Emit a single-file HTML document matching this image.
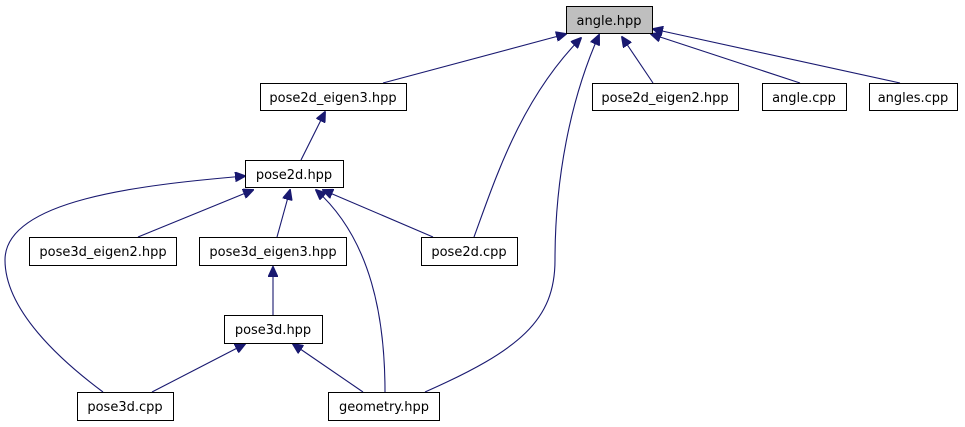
<!DOCTYPE html>
<html><head><meta charset="utf-8"><style>
html,body{margin:0;padding:0;background:#fff;}
svg{display:block;}
text{font-family:"DejaVu Sans","Liberation Sans",sans-serif;font-size:13px;fill:#000;text-anchor:middle;}
rect{fill:#fff;stroke:#000;stroke-width:1;}
path{fill:none;stroke:#191970;stroke-width:1.1;}
</style></head><body>
<svg width="965" height="427" viewBox="0 0 965 427" xmlns="http://www.w3.org/2000/svg">
<defs>
<marker id="a" markerWidth="11" markerHeight="10" refX="10" refY="5" orient="auto" markerUnits="userSpaceOnUse">
<path d="M0,0 L11,5 L0,10 Z" style="fill:#191970;stroke:#191970;stroke-width:1"/>
</marker>
</defs>
<g marker-end="url(#a)">
<path d="M383,83 L566,34"/>
<path d="M474,237 C495,180 520,100 581,38"/>
<path d="M425,392 C520,350 555,320 555,260 C555,180 570,100 599,35"/>
<path d="M653,83 L622,37"/>
<path d="M800,83 L651,34"/>
<path d="M900,83 L653,29"/>
<path d="M301,160 L325,112"/>
<path d="M138,237 L253,190"/>
<path d="M277,237 L290,190"/>
<path d="M433,237 L323,190"/>
<path d="M385,392 C385,320 372,240 316,190"/>
<path d="M103,392 C60,360 5,310 5,260 C5,200 140,185 245,176"/>
<path d="M273,315 L273,267"/>
<path d="M152,392 L245,344"/>
<path d="M363,392 L293,344"/>
</g>
<rect x="566.5" y="6.5" width="86" height="27" style="fill:#bfbfbf"/><text x="609" y="25">angle.hpp</text>
<rect x="260.5" y="83.5" width="146" height="27"/><text x="333" y="102">pose2d_eigen3.hpp</text>
<rect x="592.5" y="83.5" width="146" height="27"/><text x="665" y="102">pose2d_eigen2.hpp</text>
<rect x="762.5" y="83.5" width="84" height="27"/><text x="804" y="102">angle.cpp</text>
<rect x="869.5" y="83.5" width="88" height="27"/><text x="913" y="102">angles.cpp</text>
<rect x="245.5" y="160.5" width="98" height="27"/><text x="294" y="179">pose2d.hpp</text>
<rect x="29.5" y="237.5" width="147" height="28"/><text x="103" y="256">pose3d_eigen2.hpp</text>
<rect x="199.5" y="237.5" width="147" height="28"/><text x="273" y="256">pose3d_eigen3.hpp</text>
<rect x="421.5" y="237.5" width="96" height="28"/><text x="469" y="256">pose2d.cpp</text>
<rect x="224.5" y="315.5" width="98" height="28"/><text x="273" y="334">pose3d.hpp</text>
<rect x="77.5" y="392.5" width="96" height="28"/><text x="125" y="411">pose3d.cpp</text>
<rect x="328.5" y="392.5" width="111" height="28"/><text x="384" y="411">geometry.hpp</text>
</svg>
</body></html>
